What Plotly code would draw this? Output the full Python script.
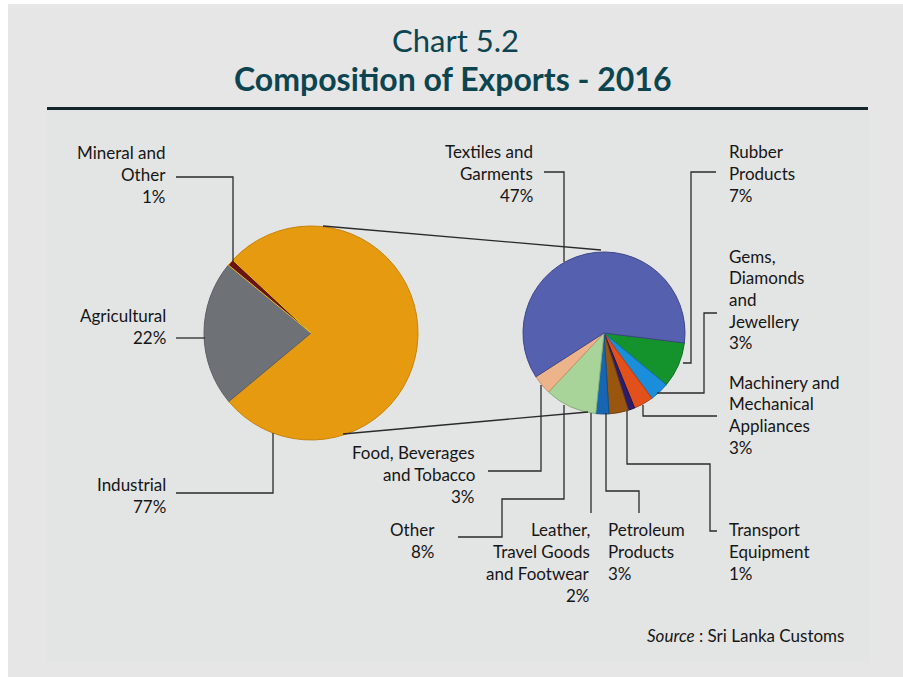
import plotly.graph_objects as go

# ---------------- data ----------------
main_labels = ["Industrial", "Agricultural", "Mineral and Other"]
main_values = [77, 22, 1]
main_colors = ["#E59A10", "#6E7176", "#6B1212"]
main_edges = ["#C98208", "#5C5F63", "#E8C020"]

ind_labels = ["Rubber Products", "Gems, Diamonds and Jewellery",
              "Machinery and Mechanical Appliances", "Transport Equipment",
              "Petroleum Products", "Leather, Travel Goods and Footwear",
              "Other", "Food, Beverages and Tobacco", "Textiles and Garments"]
ind_values = [7, 3, 3, 1, 3, 2, 8, 3, 47]
ind_colors = ["#14922B", "#1B8EDB", "#E2501B", "#2C1C6E", "#98560F",
              "#1666B3", "#A8D49A", "#EDB48C", "#5561AF"]
ind_edges = ["#0E6E20", "#156FAA", "#B23E14", "#1E1450", "#74410B",
             "#10508C", "#86B078", "#C8906C", "#3E468A"]

W, H = 903, 677
BG = "#E6E6E6"
TXT = "#161616"


def dom(cx, cy, r):
    return dict(x=[(cx - r) / W, (cx + r) / W], y=[1 - (cy + r) / H, 1 - (cy - r) / H])


fig = go.Figure()
fig.add_trace(go.Pie(labels=main_labels, values=main_values, sort=False,
                     direction="clockwise", rotation=-47, textinfo="none",
                     hoverinfo="label+percent", showlegend=False,
                     marker=dict(colors=main_colors, line=dict(color=main_edges, width=1)),
                     domain=dom(311, 333, 107)))
fig.add_trace(go.Pie(labels=ind_labels, values=ind_values, sort=False,
                     direction="clockwise", rotation=97, textinfo="none",
                     hoverinfo="label+value", showlegend=False,
                     marker=dict(colors=ind_colors, line=dict(color=ind_edges, width=1)),
                     domain=dom(604, 333, 81)))

shapes = []
# white strips and inner panel
shapes.append(dict(type="rect", xref="x", yref="y", x0=0, x1=8, y0=0, y1=H,
                   fillcolor="white", line=dict(width=0), layer="below"))
shapes.append(dict(type="rect", xref="x", yref="y", x0=0, x1=W, y0=0, y1=4,
                   fillcolor="white", line=dict(width=0), layer="below"))
shapes.append(dict(type="rect", xref="x", yref="y", x0=47, x1=869, y0=110, y1=663,
                   fillcolor="#E3E4E4", line=dict(width=0), layer="below"))
# title rule
shapes.append(dict(type="line", xref="x", yref="y", x0=47, x1=868, y0=108.5, y1=108.5,
                   line=dict(color="#14272C", width=3)))


def path(pts, color="#2A2A2A", width=1.3):
    d = "M " + " L ".join(f"{x},{y}" for x, y in pts)
    shapes.append(dict(type="path", xref="x", yref="y", path=d,
                       line=dict(color=color, width=width)))


# connectors between the pies
path([(323, 226), (601, 250)])
path([(343, 434), (588, 412)])
# leader lines
path([(176, 177), (233, 177), (233, 262)])
path([(176, 338), (205, 338)])
path([(176, 493), (273, 493), (273, 433)])
path([(544, 172), (564, 172), (564, 262)])
path([(716, 172), (691, 172), (691, 363), (683, 363)])
path([(717, 313), (704, 313), (704, 393), (657, 393)])
path([(717, 416), (643, 416), (643, 405)])
path([(717, 531), (710, 531), (710, 464), (627, 464), (627, 411)])
path([(639, 513), (639, 491), (606, 491), (606, 413)])
path([(591, 513), (591, 413)])
path([(458, 537), (502, 537), (502, 499), (564, 499), (564, 405)])
path([(488, 471), (541, 471), (541, 385)])

annotations = []
FONT = "Lato, 'Open Sans', sans-serif"


def label(lines, x, y0, anchor, step=22, size=17):
    for i, t in enumerate(lines):
        annotations.append(dict(xref="x", yref="y", x=x, y=y0 + i * step, text=t,
                                showarrow=False, xanchor=anchor, yanchor="middle",
                                font=dict(family=FONT, size=size, color=TXT)))


label(["Mineral and", "Other", "1%"], 168, 152, "right")
label(["Agricultural", "22%"], 168, 315, "right")
label(["Industrial", "77%"], 168, 484, "right")
label(["Textiles and", "Garments", "47%"], 535, 151, "right")
label(["Rubber", "Products", "7%"], 727, 151, "left")
label(["Gems,", "Diamonds", "and", "Jewellery", "3%"], 727, 256, "left", step=21.7)
label(["Machinery and", "Mechanical", "Appliances", "3%"], 727, 382, "left", step=21.7)
label(["Transport", "Equipment", "1%"], 727, 529, "left")
label(["Petroleum", "Products", "3%"], 606, 529, "left")
label(["Leather,", "Travel Goods", "and Footwear", "2%"], 592, 529, "right")
label(["Other", "8%"], 437, 529, "right")
label(["Food, Beverages", "and Tobacco", "3%"], 477, 452, "right")

annotations.append(dict(xref="x", yref="y", x=846, y=635, text="<i>Source</i> : Sri Lanka Customs",
                        showarrow=False, xanchor="right", yanchor="middle",
                        font=dict(family=FONT, size=17, color=TXT)))
annotations.append(dict(xref="x", yref="y", x=455, y=40, text="Chart 5.2",
                        showarrow=False, xanchor="center", yanchor="middle",
                        font=dict(family=FONT, size=31, color="#0C4550")))
annotations.append(dict(xref="x", yref="y", x=453, y=78, text="<b>Composition of Exports - 2016</b>",
                        showarrow=False, xanchor="center", yanchor="middle",
                        font=dict(family=FONT, size=32, color="#0C4550")))

fig.update_layout(
    width=W, height=H, margin=dict(l=0, r=0, t=0, b=0),
    paper_bgcolor=BG, plot_bgcolor=BG,
    xaxis=dict(range=[0, W], visible=False, fixedrange=True),
    yaxis=dict(range=[H, 0], visible=False, fixedrange=True),
    shapes=shapes, annotations=annotations,
)
fig.write_html("out.html", config={"displayModeBar": False},
               post_script="document.body.style.margin='0';")
